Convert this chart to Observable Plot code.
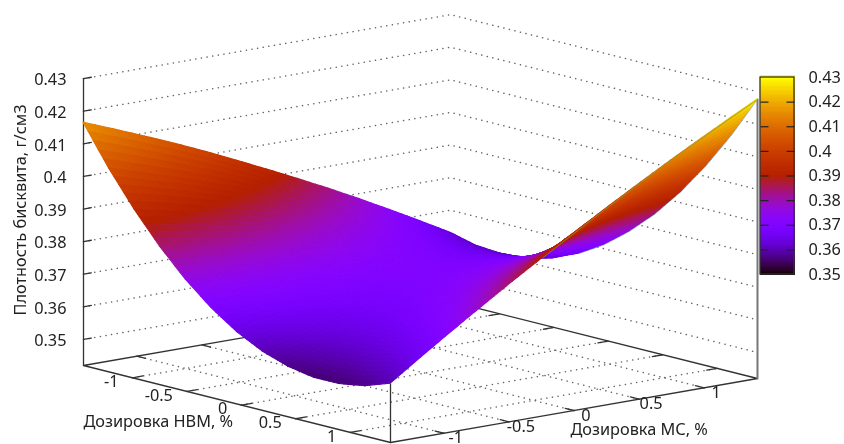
<!DOCTYPE html>
<html><head><meta charset="utf-8">
<style>html,body{margin:0;padding:0;background:#fff}svg{display:block;filter:blur(0.5px)}</style>
<script src="https://cdn.jsdelivr.net/npm/d3@7"></script>
<script src="https://cdn.jsdelivr.net/npm/@observablehq/plot@0.6"></script>
</head><body><div id="chart"></div>
<script>
// Values
const gridHBM = [-1.45,-1.215,-0.98,-0.745,-0.51,-0.275,-0.04,0.195,0.43,0.665,0.9,1.135,1.37];
const gridMC  = [-1.41,-1.175,-0.94,-0.705,-0.47,-0.235,0,0.235,0.47,0.705,0.94,1.175,1.41];
// density per HBM row (columns follow gridMC)
const density = [
 [.4165,.4128,.4090,.4051,.4010,.3967,.3923,.3878,.3832,.3784,.3734,.3683,.3631],
 [.4044,.4015,.3986,.3955,.3923,.3888,.3852,.3816,.3778,.3739,.3697,.3654,.3611],
 [.3937,.3917,.3896,.3873,.3849,.3823,.3796,.3768,.3738,.3707,.3674,.3640,.3605],
 [.3843,.3831,.3818,.3805,.3789,.3771,.3752,.3732,.3712,.3689,.3664,.3638,.3611],
 [.3762,.3759,.3754,.3749,.3741,.3732,.3722,.3710,.3698,.3683,.3667,.3650,.3631],
 [.3695,.3700,.3704,.3707,.3708,.3707,.3705,.3702,.3698,.3692,.3684,.3675,.3665],
 [.3641,.3654,.3667,.3678,.3688,.3695,.3701,.3707,.3711,.3714,.3714,.3713,.3712],
 [.3601,.3623,.3644,.3663,.3681,.3697,.3712,.3726,.3738,.3749,.3758,.3766,.3773],
 [.3574,.3604,.3633,.3662,.3688,.3712,.3735,.3757,.3779,.3798,.3815,.3831,.3846],
 [.3560,.3599,.3636,.3673,.3707,.3740,.3772,.3802,.3832,.3859,.3885,.3910,.3933],
 [.3560,.3607,.3653,.3698,.3741,.3782,.3822,.3861,.3899,.3935,.3969,.4002,.4034],
 [.3573,.3628,.3683,.3736,.3788,.3837,.3885,.3933,.3979,.4024,.4066,.4107,.4148],
 [.3600,.3664,.3727,.3788,.3848,.3906,.3963,.4019,.4073,.4126,.4177,.4227,.4276]
];
const ticksHBM = [-1,-0.5,0,0.5,1];
const ticksMC  = [-1,-0.5,0,0.5,1];
const ticksZ   = [0.35,0.36,0.37,0.38,0.39,0.40,0.41,0.42,0.43];
const labelsZ  = ["0.35","0.36","0.37","0.38","0.39","0.4","0.41","0.42","0.43"];
const labelsXY = ["-1","-0.5","0","0.5","1"];
const titleZ = "Плотность бисквита, г/см3";
const titleHBM = "Дозировка НВМ, %";
const titleMC = "Дозировка МС, %";

// View of the 3D box on the page
const aLo = -1.45, aHi = 1.37, lim = 1.41, zFloor = 0.342;
const fa = a => (a-aLo)/(aHi-aLo), fb = b => (b+lim)/(2*lim);
const sx = (a,b) => 83 + 307*fa(a) + 367*fb(b);
const sy = (a,b,c) => 365 + 77*fa(a) - 64*fb(b) - 3260*(c-zFloor);
const cbY = c => 274 - (c-0.35)/0.08*197;

// gnuplot's default pm3d palette
const palette = t => `rgb(${Math.round(255*Math.sqrt(t))},${Math.round(255*t*t*t)},${Math.round(255*Math.max(0,Math.sin(2*Math.PI*t)))})`;

// pm3d-style shading mesh over each cell of the table, back corner first
const shade = 5, cells = [];
for (let i=0;i<gridHBM.length-1;i++) for (let si=0;si<shade;si++)
 for (let j=gridMC.length-2;j>=0;j--) for (let sj=shade-1;sj>=0;sj--) {
  const at = (s,t) => {
    const p=s/shade,q=t/shade,
      c=(density[i][j]*(1-q)+density[i][j+1]*q)*(1-p)+(density[i+1][j]*(1-q)+density[i+1][j+1]*q)*p;
    const a=gridHBM[i]*(1-p)+gridHBM[i+1]*p, b=gridMC[j]*(1-q)+gridMC[j+1]*q;
    return {X:sx(a,b),Y:sy(a,b,c),c};
  };
  const A=at(si,sj),B=at(si+1,sj),C=at(si+1,sj+1),D=at(si,sj+1);
  const m=(A.c+B.c+C.c+D.c)/4, id=cells.length;
  cells.push({id,x1:A.X,y1:A.Y,x2:D.X,y2:D.Y,m},{id,x1:B.X,y1:B.Y,x2:C.X,y2:C.Y,m});
 }

// 3D segments
const seg = list => { const out=[]; list.forEach((pts,id)=>pts.forEach(([a,b,c])=>out.push({id,X:sx(a,b),Y:sy(a,b,c)}))); return out; };
const dotted = seg([
  ...ticksZ.map(c=>[[aLo,-lim,c],[aLo,lim,c],[aHi,lim,c]]),
  ...ticksHBM.map(a=>[[a,-lim,zFloor],[a,lim,zFloor]]),
  ...ticksMC.map(b=>[[aHi,b,zFloor],[aLo,b,zFloor]])
]);
const frame = seg([
  [[aLo,lim,zFloor],[aLo,-lim,zFloor],[aHi,-lim,zFloor],[aHi,lim,zFloor],[aLo,lim,zFloor]],
  [[aLo,-lim,zFloor],[aLo,-lim,0.43]],
  [[aHi,-lim,zFloor],[aHi,-lim,density[12][0]]],
  ...ticksZ.map(c=>[[aLo,-lim,c],[aLo,-lim+0.06,c]]),
  ...ticksHBM.flatMap(a=>[[[a,-lim,zFloor],[a,-lim+0.08,zFloor]],[[a,lim,zFloor],[a,lim-0.08,zFloor]]]),
  ...ticksMC.flatMap(b=>[[[aHi,b,zFloor],[aHi-0.08,b,zFloor]],[[aLo,b,zFloor],[aLo+0.08,b,zFloor]]])
]);
const rightPost = seg([[[aHi,lim,zFloor],[aHi,lim,density[12][12]]]]);
const edgeFront = gridMC.slice(5).map((b,k)=>({X:sx(aHi,b),Y:sy(aHi,b,density[12][k+5])}));
const edgeBack  = gridHBM.slice(5).map((a,k)=>({X:sx(a,lim),Y:sy(a,lim,density[k+5][12])}));

const barSteps = d3.range(0.35,0.43,0.0005);
const cbTicks = ticksZ.slice(1,-1).flatMap(c=>[{c,a:760,b:768},{c,a:786,b:794}]);

const font = "'Noto Sans', sans-serif";
const plot = Plot.plot({
  width:844,height:444,margin:0,
  x:{domain:[0,844],range:[0,844],axis:null},
  y:{domain:[0,444],range:[0,444],axis:null},
  color:{type:"linear",domain:[0.35,0.43],interpolate:palette},
  style:{fontFamily:font,background:"#fff"},
  marks:[
    Plot.line(dotted,{x:"X",y:"Y",z:"id",stroke:"#666",strokeWidth:1.5,strokeDasharray:"0.1 5.6",strokeLinecap:"round"}),
    Plot.line(frame,{x:"X",y:"Y",z:"id",stroke:"#333",strokeWidth:1.3}),
    Plot.line(rightPost,{x:"X",y:"Y",z:"id",stroke:"#777",strokeWidth:2}),
    Plot.area(cells,{x1:"x1",y1:"y1",x2:"x2",y2:"y2",z:"id",fill:"m",stroke:"m",strokeWidth:1.1,strokeLinejoin:"round"}),
    Plot.line(edgeBack,{x:"X",y:"Y",stroke:"#3a8fd8",strokeWidth:0.8,strokeOpacity:0.6}),
    Plot.line(edgeFront,{x:"X",y:"Y",stroke:"#7da030",strokeWidth:0.9,strokeOpacity:0.75}),
    // colour box
    Plot.rect(barSteps,{x1:760,x2:794,y1:d=>cbY(d),y2:d=>cbY(d+0.0005),fill:d=>d+0.00025,stroke:d=>d+0.00025,strokeWidth:1,shapeRendering:"crispEdges"}),
    Plot.rect([0],{x1:760,x2:794,y1:cbY(0.35),y2:cbY(0.43),fill:"none",stroke:"#333",strokeWidth:1.3}),
    Plot.link(cbTicks,{x1:"a",x2:"b",y1:d=>cbY(d.c),y2:d=>cbY(d.c),stroke:"#222",strokeWidth:1.2}),
    // labels
    Plot.text(ticksZ,{x:()=>66,y:c=>sy(aLo,-lim,c)+1.5,text:(c,i)=>labelsZ[i],textAnchor:"end",fontSize:16.3,fill:"#222"}),
    Plot.text(ticksZ,{x:()=>808,y:c=>cbY(c),text:(c,i)=>labelsZ[i],textAnchor:"start",fontSize:16.3,fill:"#222"}),
    Plot.text(ticksHBM,{x:a=>sx(a,-lim)-14,y:a=>sy(a,-lim,zFloor)+4,text:(a,i)=>labelsXY[i],textAnchor:"end",fontSize:16.3,fill:"#222"}),
    Plot.text(ticksMC,{x:b=>sx(aHi,b)+12,y:b=>sy(aHi,b,zFloor)+5,text:(b,i)=>labelsXY[i],fontSize:16.3,fill:"#222"}),
    Plot.text([titleZ],{x:()=>20,y:()=>209.5,text:d=>d,rotate:-90,fontSize:16.3,fill:"#222"}),
    Plot.text([titleHBM],{x:()=>83,y:()=>421,text:d=>d,textAnchor:"start",fontSize:16.3,fill:"#222"}),
    Plot.text([titleMC],{x:()=>570,y:()=>429,text:d=>d,textAnchor:"start",fontSize:16.3,fill:"#222"})
  ]
});
document.getElementById("chart").append(plot);
</script></body></html>
